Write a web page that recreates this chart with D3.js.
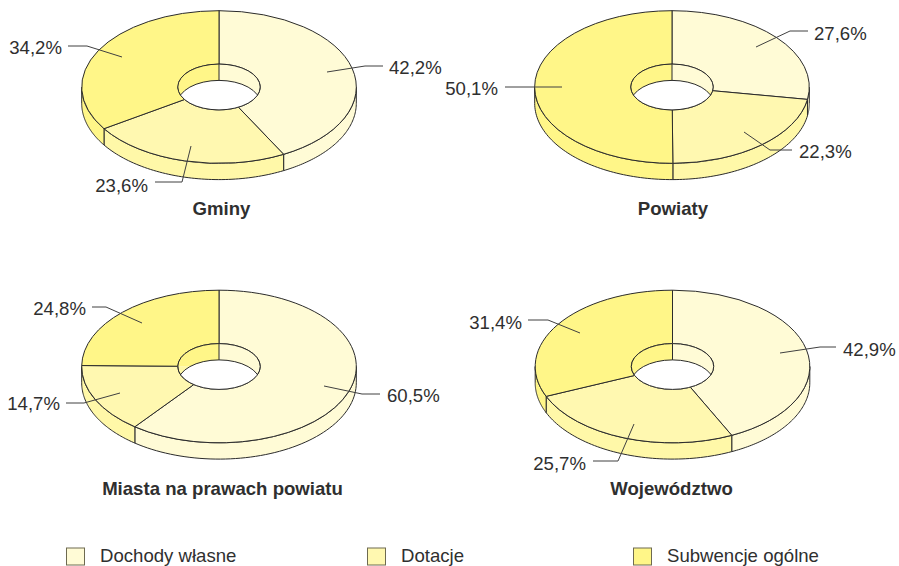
<!DOCTYPE html>
<html><head><meta charset="utf-8">
<script src="https://cdn.jsdelivr.net/npm/d3@7"></script>
<style>html,body{margin:0;padding:0;background:#fff}svg{display:block}text{font-family:"Liberation Sans",Arial,sans-serif;fill:#2f2f2f}</style>
</head><body><svg id="c" width="899" height="566"></svg>
<script>
const seriesNames = ["Dochody własne", "Dotacje", "Subwencje ogólne"];
const chartTitles = ["Gminy", "Powiaty", "Miasta na prawach powiatu", "Województwo"];
const gminyValues = [42.2, 23.6, 34.2];
const powiatyValues = [27.6, 22.3, 50.1];
const miastaValues = [60.5, 14.7, 24.8];
const wojewodztwoValues = [42.9, 25.7, 31.4];
const allValues = [gminyValues, powiatyValues, miastaValues, wojewodztwoValues];

// layout (not data)
const topColors = ["#FFFBD6", "#FFF8B0", "#FFF688"];
const wallColors = ["#FFFBD6", "#FFF8A8", "#FFF688"];
const ink = "#2b2b2b", leaderInk = "#404040";
const centers = [[219,87],[672,87],[219,366.5],[672.5,366.5]];
const titleY = [215,215,495,495];
const titleX = [221.5,673,222.5,671.5];
const rx = 137.3, ry = 76.3, hole = 41.2, depth = 16.3, ratio = ry/rx;
// leader polylines & label anchors for each pie
const leaders = [
 [{p:[[327,72],[365,66],[383,66]],t:[389,74],a:"start"},
  {p:[[191,146],[182,182],[155,182]],t:[148,192],a:"end"},
  {p:[[122,57],[87,46],[68,46]],t:[62,54],a:"end"}],
 [{p:[[756,47],[790,31],[808,31]],t:[814,40],a:"start"},
  {p:[[744,132],[770,150],[792,150]],t:[799,158],a:"start"},
  {p:[[562,87],[505,87]],t:[498,95],a:"end"}],
 [{p:[[324,386],[362,394],[380,394]],t:[387,401.5],a:"start"},
  {p:[[120,393],[84,403],[66,403]],t:[60,410],a:"end"},
  {p:[[142,323],[106,307],[92,307]],t:[86,315],a:"end"}],
 [{p:[[780,353],[820,347],[836,347]],t:[843,356],a:"start"},
  {p:[[634,424],[618,461],[593,461]],t:[586,470],a:"end"},
  {p:[[580,333],[548,320],[528,320]],t:[522,329],a:"end"}]
];
const legendX = [66,367,633], legendTextX = [100,401,667];

const svg = d3.select("#c");
const pie = d3.pie().sort(null).value(d=>d);
const px = a => rx*Math.sin(a), py = a => -ry*Math.cos(a);
const fmt = v => v.toFixed(1).replace(".",",")+"%";
const line = d3.line();

allValues.forEach((vals,i)=>{
  const [cx,cy] = centers[i];
  const g = svg.append("g").attr("transform",`translate(${cx},${cy})`);
  const arcs = pie(vals);

  // outer front wall
  arcs.forEach((d,k)=>{
    const a0 = Math.max(d.startAngle, Math.PI/2), a1 = Math.min(d.endAngle, 3*Math.PI/2);
    if (a1 <= a0) return;
    const angles = d3.range(0,61).map(j=>a0+(a1-a0)*j/60);
    const top = angles.map(a=>[px(a),py(a)]);
    const bot = angles.slice().reverse().map(a=>[px(a),py(a)+depth]);
    g.append("path").attr("d",line(top.concat(bot))+"Z")
      .attr("fill",wallColors[k]).attr("stroke",ink).attr("stroke-width",1).attr("stroke-linejoin","round");
  });

  // top face
  const sc = g.append("g").attr("transform",`scale(1,${ratio})`);
  const arc = d3.arc().innerRadius(hole).outerRadius(rx);
  sc.selectAll("path.s").data(arcs).join("path").attr("class","s")
    .attr("d",arc).attr("fill",(d,k)=>topColors[k])
    .attr("stroke",ink).attr("stroke-width",1).attr("vector-effect","non-scaling-stroke")
    .style("vector-effect","non-scaling-stroke");

  // hole interior
  const id = "hole"+i;
  svg.append("clipPath").attr("id",id).append("ellipse").attr("rx",hole).attr("ry",hole*ratio);
  const inner = g.append("g").attr("clip-path",`url(#${id})`);
  const holeArc = d3.arc().innerRadius(0).outerRadius(hole*1.2);
  inner.append("g").attr("transform",`scale(1,${ratio})`).selectAll("path").data(arcs).join("path")
    .attr("d",holeArc).attr("fill",(d,k)=>wallColors[k]);
  inner.append("ellipse").attr("cy",depth).attr("rx",hole).attr("ry",hole*ratio)
    .attr("fill","#fff").attr("stroke",ink).attr("stroke-width",1);
  arcs.forEach(d=>{
    if (Math.cos(d.startAngle) > 0) {
      const x = hole*Math.sin(d.startAngle), y = -hole*ratio*Math.cos(d.startAngle);
      inner.append("line").attr("x1",x).attr("x2",x).attr("y1",y).attr("y2",y+depth)
        .attr("stroke",ink).attr("stroke-width",1);
    }
  });
  g.append("ellipse").attr("rx",hole).attr("ry",hole*ratio).attr("fill","none").attr("stroke",ink).attr("stroke-width",1);

  // leaders and labels
  leaders[i].forEach((l,k)=>{
    svg.append("path").attr("d",line(l.p)).attr("fill","none").attr("stroke",leaderInk).attr("stroke-width",1);
    svg.append("text").attr("x",l.t[0]).attr("y",l.t[1]).attr("text-anchor",l.a)
      .attr("font-size",18.6).text(fmt(vals[k]));
  });

  svg.append("text").attr("x",titleX[i]).attr("y",titleY[i]).attr("text-anchor","middle")
    .attr("font-size",18.6).attr("font-weight","bold").text(chartTitles[i]);
});

seriesNames.forEach((n,k)=>{
  svg.append("rect").attr("x",legendX[k]+.5).attr("y",548).attr("width",18).attr("height",17)
    .attr("fill",topColors[k]).attr("stroke","#6e6a50").attr("stroke-width",1);
  svg.append("text").attr("x",legendTextX[k]).attr("y",562).attr("font-size",18.6).text(n);
});
</script></body></html>
